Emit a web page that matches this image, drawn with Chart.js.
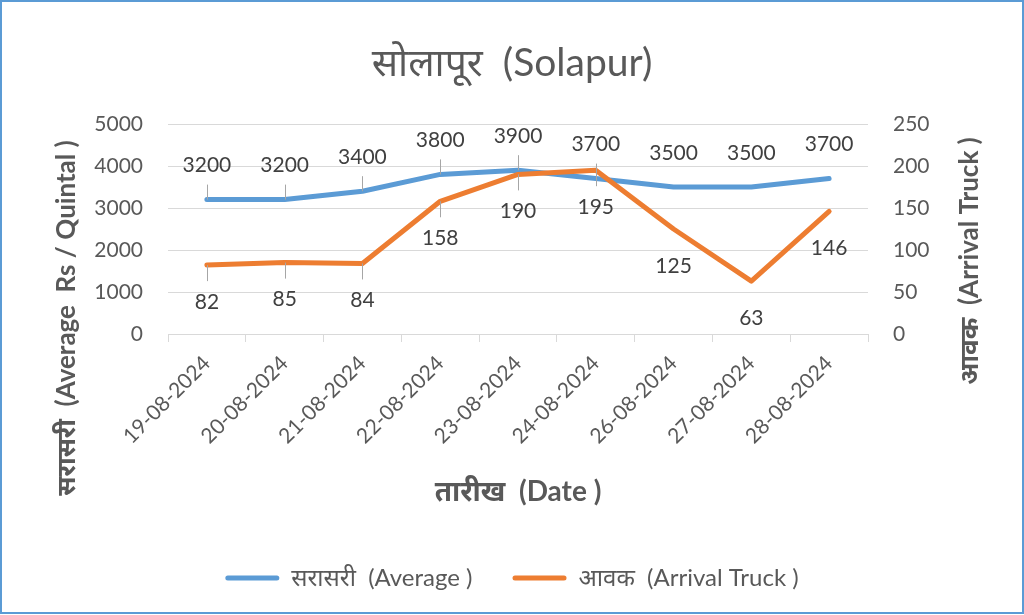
<!DOCTYPE html>
<html><head><meta charset="utf-8">
<script src="https://cdn.jsdelivr.net/npm/chart.js@4.4.1/dist/chart.umd.min.js"></script>
<style>
html,body{margin:0;padding:0;background:#fff;}
#wrap{position:relative;width:1024px;height:615px;}
#frame{position:absolute;left:0;top:0;width:1020px;height:610px;border:2px solid #5B9BD5;pointer-events:none;}
canvas{display:block;}
</style></head><body>
<div id="wrap"><canvas id="c" width="1024" height="615"></canvas><div id="frame"></div></div>
<script>
const categories = ['19-08-2024','20-08-2024','21-08-2024','22-08-2024','23-08-2024','24-08-2024','26-08-2024','27-08-2024','28-08-2024'];
const averagePrice = [3200, 3200, 3400, 3800, 3900, 3700, 3500, 3500, 3700];
const arrivalTrucks = [82, 85, 84, 158, 190, 195, 125, 63, 146];
const priceTicks = [0, 1000, 2000, 3000, 4000, 5000];
const truckTicks = [0, 50, 100, 150, 200, 250];

const chartTitle = 'सोलापूर  (Solapur)';
const priceLabel = 'सरासरी  (Average )';
const truckLabel = 'आवक  (Arrival Truck )';
const leftAxisTitle = 'सरासरी  (Average  Rs / Quintal )';
const rightAxisTitle = 'आवक  (Arrival Truck )';
const xAxisTitle = 'तारीख  (Date )';

const FONT = "Lato, 'Noto Sans', 'Open Sans', sans-serif";
const AXIS_COLOR = '#595959';
const BLUE = '#5B9BD5';
const ORANGE = '#ED7D31';

const pointLabels = {
  id: 'pointLabels',
  afterDatasetsDraw(chart) {
    const ctx = chart.ctx;
    ctx.save();
    chart.data.datasets.forEach((ds, di) => {
      const meta = chart.getDatasetMeta(di);
      const st = ds.labelStyle;
      const dir = Math.sign(st.offset);
      meta.data.forEach((pt, i) => {
        if (st.leader[i]) {
          ctx.strokeStyle = '#A6A6A6';
          ctx.lineWidth = 1;
          ctx.beginPath();
          ctx.moveTo(Math.round(pt.x) + 0.5, pt.y);
          ctx.lineTo(Math.round(pt.x) + 0.5, pt.y + dir * st.leaderLen);
          ctx.stroke();
        }
      });
    });
    chart.data.datasets.forEach((ds, di) => {
      const meta = chart.getDatasetMeta(di);
      const st = ds.labelStyle;
      ctx.font = '21px ' + FONT;
      ctx.fillStyle = '#404040';
      ctx.textAlign = 'center';
      ctx.textBaseline = 'middle';
      meta.data.forEach((pt, i) => {
        ctx.fillText(String(ds.data[i]), pt.x, pt.y + st.offset);
      });
    });
    ctx.restore();
  }
};

const sideTitles = {
  id: 'sideTitles',
  afterDraw(chart) {
    const ctx = chart.ctx;
    const draw = (text, x, y) => {
      ctx.save();
      ctx.fillStyle = AXIS_COLOR;
      ctx.font = 'bold 26px ' + FONT;
      ctx.textAlign = 'center';
      ctx.textBaseline = 'alphabetic';
      ctx.translate(x, y);
      ctx.rotate(-Math.PI / 2);
      ctx.fillText(text, 0, 0);
      ctx.restore();
    };
    draw(leftAxisTitle, 75, 318);
    draw(rightAxisTitle, 978, 261);
  }
};

new Chart(document.getElementById('c'), {
  type: 'line',
  data: {
    labels: categories,
    datasets: [
      {
        label: priceLabel,
        data: averagePrice,
        yAxisID: 'y',
        borderColor: BLUE,
        backgroundColor: BLUE,
        borderWidth: 5,
        pointRadius: 0,
        borderJoinStyle: 'round',
        borderCapStyle: 'round',
        tension: 0,
        order: 1,
        labelStyle: { offset: -34, leaderLen: 15, leader: [1,1,1,1,1,1,0,0,0] }
      },
      {
        label: truckLabel,
        data: arrivalTrucks,
        yAxisID: 'y1',
        borderColor: ORANGE,
        backgroundColor: ORANGE,
        borderWidth: 5,
        pointRadius: 0,
        borderJoinStyle: 'round',
        borderCapStyle: 'round',
        tension: 0,
        order: 0,
        labelStyle: { offset: 37, leaderLen: 16, leader: [1,1,1,1,1,1,0,0,0] }
      }
    ]
  },
  options: {
    responsive: false,
    animation: false,
    devicePixelRatio: 1,
    layout: { padding: { top: 0, left: 0, right: 0, bottom: 15 } },
    plugins: {
      title: {
        display: true,
        text: chartTitle,
        color: AXIS_COLOR,
        font: { family: FONT, size: 39, weight: 'normal', lineHeight: 1.2 },
        padding: { top: 40, bottom: 37.2 }
      },
      legend: {
        position: 'bottom',
        labels: {
          color: AXIS_COLOR,
          font: { family: FONT, size: 24 },
          boxWidth: 54,
          boxHeight: 5,
          padding: 40,
          useBorderRadius: true,
          borderRadius: 2.5,
          sort: (a, b) => a.datasetIndex - b.datasetIndex,
          generateLabels(chart) {
            const items = Chart.defaults.plugins.legend.labels.generateLabels(chart);
            items.forEach(it => { it.lineWidth = 0; it.fillStyle = it.strokeStyle; });
            return items;
          }
        }
      },
      tooltip: { enabled: false }
    },
    scales: {
      x: {
        type: 'category',
        offset: true,
        grid: { display: true, drawOnChartArea: false, drawTicks: true, tickLength: 8, offset: true, color: '#D9D9D9' },
        border: { display: true, color: '#D9D9D9', width: 1 },
        ticks: { color: AXIS_COLOR, font: { family: FONT, size: 21 }, minRotation: 45, maxRotation: 45, padding: 9, autoSkip: false },
        title: { display: true, text: xAxisTitle, color: AXIS_COLOR, font: { family: FONT, size: 28, weight: 'bold', lineHeight: 1.2 }, padding: { top: 0, bottom: 17 } },
        afterFit(scale) { scale.height = 192; }
      },
      y: {
        position: 'left',
        min: 0, max: 5000,
        afterBuildTicks(scale) { scale.ticks = priceTicks.map(v => ({ value: v })); },
        grid: { color: '#D9D9D9', drawTicks: false },
        border: { display: false },
        ticks: { color: AXIS_COLOR, font: { family: FONT, size: 21 }, padding: 25, callback: v => String(v) },
        afterFit(scale) { scale.width = 168; }
      },
      y1: {
        position: 'right',
        min: 0, max: 250,
        afterBuildTicks(scale) { scale.ticks = truckTicks.map(v => ({ value: v })); },
        grid: { drawOnChartArea: false, drawTicks: false },
        border: { display: false },
        ticks: { color: AXIS_COLOR, font: { family: FONT, size: 21 }, padding: 25, callback: v => String(v) },
        afterFit(scale) { scale.width = 156; }
      }
    }
  },
  plugins: [pointLabels, sideTitles]
});
</script>
</body></html>
